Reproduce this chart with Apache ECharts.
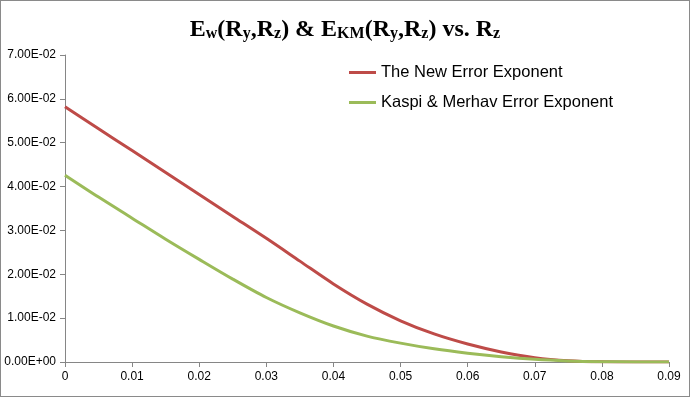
<!DOCTYPE html>
<html lang="en">
<head>
    <meta charset="UTF-8">
    <title>Ew & EKM vs. Rz</title>
</head>
<style>
    body {
        margin: 0;
    }
    #chart {
        width: 690px;
        height: 397px;
        box-sizing: border-box;
        border: 1px solid #8a8a8a;
        background: #fff;
    }
</style>
<body>
    <div id="chart"></div>
    <script src="https://cdn.jsdelivr.net/npm/echarts@6/dist/echarts.min.js"></script>
    <script>
        // Rz values
        var rz = [0, 0.005, 0.01, 0.015, 0.02, 0.025, 0.03, 0.035, 0.04, 0.045,
                  0.05, 0.055, 0.06, 0.065, 0.07, 0.075, 0.08, 0.085, 0.09];
        // the new error exponent
        var newExp = [0.0582, 0.0532, 0.0482, 0.0432, 0.0382, 0.0332, 0.0282, 0.0230, 0.0178, 0.0132,
                      0.0094, 0.0064, 0.0041, 0.0023, 0.0010, 0.0003, 0.00005, 0.00001, 0];
        // kaspi & merhav
        var kmExp = [0.0426, 0.0376, 0.0328, 0.0280, 0.0234, 0.0189, 0.0147, 0.0112, 0.0082, 0.0059,
                     0.0043, 0.0030, 0.0020, 0.0012, 0.0006, 0.00025, 0.00008, 0.00002, 0];
        var seriesNames = ['The New Error Exponent', 'Kaspi & Merhav Error Exponent'];
        var xTicks = [0, 0.01, 0.02, 0.03, 0.04, 0.05, 0.06, 0.07, 0.08, 0.09];

        function pairs(ys) {
            return rz.map(function (x, i) { return [x, ys[i]]; });
        }

        function sci(v) {
            if (v === 0) return '0.00E+00';
            var s = v.toExponential(2).toUpperCase().split('E');
            var e = parseInt(s[1], 10);
            var sign = e < 0 ? '-' : '+';
            var a = Math.abs(e);
            return s[0] + 'E' + sign + (a < 10 ? '0' + a : a);
        }

        var chart = echarts.init(document.getElementById('chart'));
        var option = {
            animation: false,
            title: {
                text: '{b|E}{s|w}{b|(R}{s|y}{b|,R}{s|z}{b|) & E}{s|KM}{b|(R}{s|y}{b|,R}{s|z}{b|) vs. R}{s|z}',
                left: 'center',
                top: 6,
                textStyle: {
                    rich: {
                        b: {
                            fontFamily: 'Liberation Serif',
                            fontWeight: 'bold',
                            fontSize: 24,
                            color: '#000',
                            lineHeight: 30,
                            verticalAlign: 'bottom'
                        },
                        s: {
                            fontFamily: 'Liberation Serif',
                            fontWeight: 'bold',
                            fontSize: 16,
                            color: '#000',
                            lineHeight: 27,
                            verticalAlign: 'bottom'
                        }
                    }
                }
            },
            legend: {
                orient: 'vertical',
                left: 343,
                top: 58,
                itemWidth: 27,
                itemHeight: 3,
                itemGap: 13,
                icon: 'rect',
                data: seriesNames,
                textStyle: {
                    fontFamily: 'Liberation Sans',
                    fontSize: 16.5,
                    color: '#000'
                }
            },
            grid: {
                left: 64,
                right: 20,
                top: 54,
                bottom: 34,
                containLabel: false
            },
            xAxis: {
                type: 'value',
                min: 0,
                max: 0.09,
                interval: 0.01,
                axisLine: { lineStyle: { color: '#868686' } },
                axisTick: { show: true, length: 5, lineStyle: { color: '#868686' } },
                splitLine: { show: false },
                axisLabel: {
                    color: '#000',
                    fontFamily: 'Liberation Sans',
                    fontSize: 12,
                    margin: 9,
                    formatter: function (v) {
                        var i = Math.round(v * 100);
                        return xTicks[i] === 0 ? '0' : String(xTicks[i]);
                    }
                }
            },
            yAxis: {
                type: 'value',
                min: 0,
                max: 0.07,
                interval: 0.01,
                axisLine: { show: true, lineStyle: { color: '#868686' } },
                axisTick: { show: true, length: 5, lineStyle: { color: '#868686' } },
                splitLine: { show: false },
                axisLabel: {
                    color: '#000',
                    fontFamily: 'Liberation Sans',
                    fontSize: 12,
                    margin: 9,
                    formatter: sci
                }
            },
            series: [
                {
                    name: seriesNames[0],
                    type: 'line',
                    smooth: 0.3,
                    showSymbol: false,
                    lineStyle: { width: 3, color: '#BE4B48' },
                    itemStyle: { color: '#BE4B48' },
                    data: pairs(newExp)
                },
                {
                    name: seriesNames[1],
                    type: 'line',
                    smooth: 0.3,
                    showSymbol: false,
                    lineStyle: { width: 3, color: '#9BBB59' },
                    itemStyle: { color: '#9BBB59' },
                    data: pairs(kmExp)
                }
            ]
        };
        chart.setOption(option);
    </script>
</body>
</html>
